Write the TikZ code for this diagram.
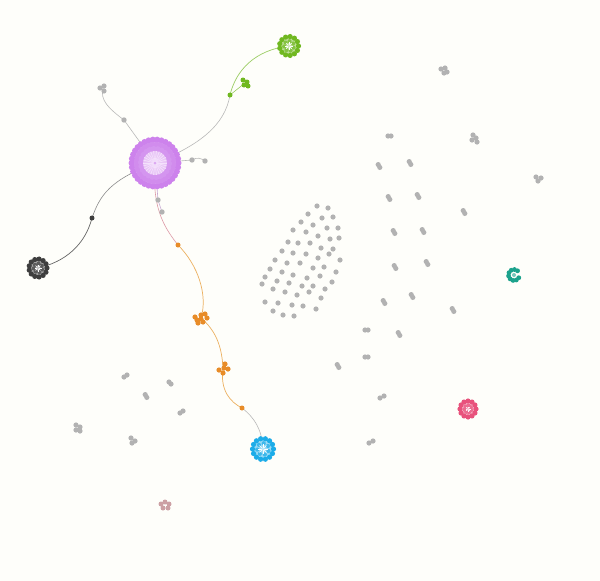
\documentclass[tikz,border=0pt]{standalone}
\definecolor{bg}{RGB}{254,254,250}
\definecolor{dotgray}{RGB}{178,178,178}
\definecolor{edgegray}{RGB}{185,185,185}
\definecolor{purp}{RGB}{205,130,236}
\definecolor{purplt}{RGB}{236,205,250}
\definecolor{grn}{RGB}{112,184,32}
\definecolor{drk}{RGB}{62,62,62}
\definecolor{blu}{RGB}{28,172,232}
\definecolor{tea}{RGB}{28,162,140}
\definecolor{pnk}{RGB}{232,82,124}
\definecolor{org}{RGB}{232,140,40}
\definecolor{orgedge}{RGB}{236,176,96}
\definecolor{brp}{RGB}{204,160,164}
\newcommand{\gd}[2]{\fill[dotgray] (#1,#2) circle (2.7);}
\newcommand{\gpair}[2]{\fill[dotgray] (#1-0.8,#2-1.4) circle (2.6); \fill[dotgray] (#1+0.8,#2+1.4) circle (2.6);}
\newcommand{\rclus}[5]{%
  \begin{scope}[shift={(#1,#2)}]
    \fill[#3!45] (0,0) circle (#4-1);
    \foreach \i in {1,...,#5} \fill[#3] ({360/#5*\i}:{#4-1.5}) circle (2.6);
    \foreach \i in {1,...,7} \fill[#3!85] ({360/7*\i+20}:{#4-6.2}) circle (2.1);
    \foreach \i in {1,...,8} \draw[white,line width=0.4pt] (0,0) -- ({45*\i}:{#4-7});
    \fill[#3!30] (0,0) circle (1.6);
  \end{scope}}
\tikzset{gedge/.style={draw=edgegray,line width=0.6pt},
         oedge/.style={draw=orgedge,line width=0.7pt}}
\begin{document}
\begin{tikzpicture}[x=1pt,y=-1pt]
\useasboundingbox (0,0) rectangle (600,581);
\fill[bg] (0,0) rectangle (600,581);
% hub coordinates
\coordinate (P) at (155,163);
\coordinate (g1) at (124,120);
\coordinate (g1c) at (103,88);
\coordinate (gr) at (230,95);
\coordinate (G) at (289,46);
\coordinate (gs) at (245,83);
\coordinate (r1) at (192,160);
\coordinate (r2) at (205,161);
\coordinate (b1) at (158,200);
\coordinate (b2) at (162,212);
\coordinate (dd) at (92,218);
\coordinate (D) at (38,268);
\coordinate (o1) at (178,245);
\coordinate (O1) at (201,318);
\coordinate (O2) at (223,369);
\coordinate (o2) at (242,408);
\coordinate (B) at (263,449);
% edges
\draw[gedge] (P) -- (g1);
\draw[gedge] (g1) .. controls (108,108) and (100,100) .. (g1c);
\draw[gedge] (P) .. controls (200,145) and (225,125) .. (gr);
\draw[draw=grn!70,line width=0.7pt] (gr) .. controls (236,70) and (255,50) .. (G);
\draw[draw=grn!70,line width=0.6pt] (gr) -- (gs);
\draw[gedge] (P) -- (r1) .. controls (197,157) and (201,158) .. (r2);
\draw[draw=purp!60!gray!70,line width=0.6pt] (P) -- (b1) -- (b2);
\draw[draw=drk!60,line width=0.6pt] (P) .. controls (110,180) and (100,195) .. (dd);
\draw[draw=drk!80,line width=0.7pt] (dd) .. controls (85,245) and (65,262) .. (D);
\draw[draw=purp!50!orgedge,line width=0.6pt] (P) .. controls (152,205) and (162,225) .. (o1);
\draw[oedge] (o1) .. controls (198,265) and (208,295) .. (O1);
\draw[oedge] (O1) .. controls (215,330) and (222,345) .. (O2);
\draw[oedge] (O2) .. controls (220,390) and (230,402) .. (o2);
\draw[gedge] (o2) .. controls (255,418) and (262,430) .. (B);
% purple big cluster
\begin{scope}[shift={(P)}]
  \fill[purp!80] (0,0) circle (25);
  \foreach \i in {1,...,34} \fill[purp] ({360/34*\i}:23.5) circle (3);
  \foreach \i in {1,...,28} \fill[purp!92] ({360/28*\i+5}:18.5) circle (2.8);
  \foreach \i in {1,...,22} \fill[purp!85] ({360/22*\i+3}:14.5) circle (2.6);
  \fill[purp!45] (0,0) circle (12);
  \foreach \i in {1,...,26} \draw[purplt!60!white,line width=0.7pt] (0,0) -- ({360/26*\i}:12);
  \fill[purp!70] (0,0) circle (1.5);
\end{scope}
% small gray near purple
\gd{124}{120}
\fill[dotgray] (100,88) circle (2.6); \fill[dotgray] (104,86) circle (2.6); \fill[dotgray] (104,91) circle (2.6);
\gd{192}{160} \gd{205}{161}
\gd{158}{200} \gd{162}{212}
% green
\fill[grn] (gr) circle (2.5);
\rclus{289}{46}{grn}{11}{13}
\fill[grn] (243,80) circle (2.5); \fill[grn] (247,82) circle (2.5); \fill[grn] (244,85) circle (2.5); \fill[grn] (248,86) circle (2.5);
% dark
\fill[drk] (dd) circle (2.5);
\rclus{38}{268}{drk}{10.5}{13}
% orange
\fill[org] (o1) circle (2.5);
\foreach \p in {(195,317),(201,315),(205,314),(207,318),(203,322),(198,323),(197,320),(201,319)} \fill[org] \p circle (2.6);
\foreach \p in {(225,364),(219,370),(228,369),(223,373),(224,368)} \fill[org] \p circle (2.6);
\fill[org] (o2) circle (2.5);
% blue
\rclus{263}{449}{blu}{12}{14}
% teal
\begin{scope}[shift={(514,275)}]
  \foreach \a in {30,65,100,135,170,205,240,275,310} \fill[tea] (\a:5.5) circle (2.4);
  \fill[tea!60] (0,0) circle (2);
\end{scope}
% pink
\rclus{468}{409}{pnk}{9.5}{12}
% brownish pink
\foreach \p in {(161,504),(165,502),(169,504),(163,508),(168,508)} \fill[brp] \p circle (2.5);
% lattice of gray dots
\foreach \p in {(317,206),(328,208),(308,214),(322,218),(333,217),(301,222),(313,225),(327,228),(338,228),
 (293,230),(306,232),(318,236),(330,239),(339,238),(288,242),(298,243),(310,243),(321,248),(333,249),
 (282,251),(293,253),(306,254),(318,258),(329,254),(340,260),(275,260),(287,263),(300,263),(313,268),(324,267),(336,272),
 (270,269),(282,272),(293,275),(307,278),(320,276),(332,282),(265,277),(277,281),(289,283),(302,286),(313,286),(325,289),
 (262,284),(273,289),(285,292),(297,295),(309,292),(321,298),(265,302),(278,303),(292,305),(303,306),(316,309),
 (273,311),(283,315),(294,316)} \fill[dotgray] \p circle (2.6);
% scattered gray clusters
\foreach \p in {(441,69),(445,68),(444,73),(447,72)} \fill[dotgray] \p circle (2.6);
\foreach \p in {(473,135),(476,138),(472,140),(477,142)} \fill[dotgray] \p circle (2.6);
\foreach \p in {(536,177),(541,178),(538,181)} \fill[dotgray] \p circle (2.6);
\foreach \p in {(76,425),(80,427),(76,430),(80,431)} \fill[dotgray] \p circle (2.6);
\foreach \p in {(131,438),(135,441),(132,443)} \fill[dotgray] \p circle (2.6);
\fill[dotgray] (388,136) circle (2.6); \fill[dotgray] (391,136) circle (2.6);
\gpair{379}{166} \gpair{410}{163}
\gpair{389}{198} \gpair{418}{196}
\gpair{464}{212}
\gpair{394}{232} \gpair{423}{231}
\gpair{395}{267} \gpair{427}{263}
\gpair{384}{302} \gpair{412}{296}
\gpair{453}{310}
\fill[dotgray] (365,330) circle (2.6); \fill[dotgray] (368,330) circle (2.6);
\gpair{399}{334}
\fill[dotgray] (365,357) circle (2.6); \fill[dotgray] (368,357) circle (2.6);
\gpair{338}{366}
\fill[dotgray] (380,398) circle (2.6); \fill[dotgray] (384,396) circle (2.6);
\fill[dotgray] (369,443) circle (2.6); \fill[dotgray] (373,441) circle (2.6);
\fill[dotgray] (124,377) circle (2.6); \fill[dotgray] (127,375) circle (2.6);
\fill[dotgray] (169,382) circle (2.6); \fill[dotgray] (171,384) circle (2.6);
\gpair{146}{396}
\fill[dotgray] (180,413) circle (2.6); \fill[dotgray] (183,411) circle (2.6);
\end{tikzpicture}
\end{document}
